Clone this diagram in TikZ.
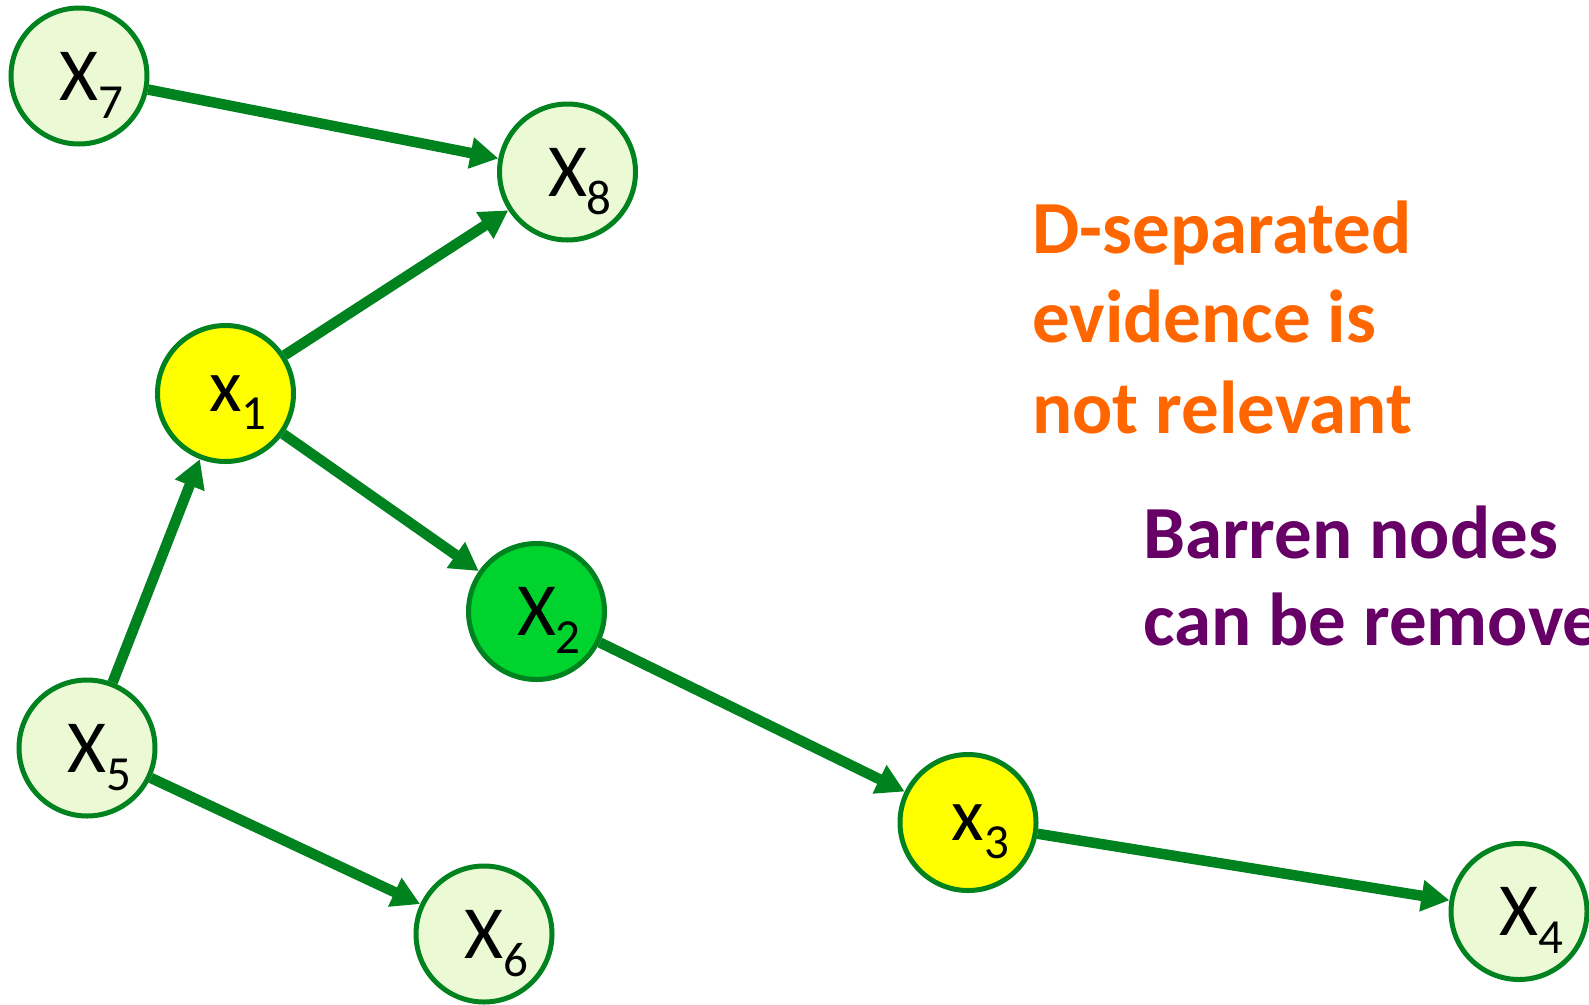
\documentclass[tikz,border=0pt]{standalone}
\usepackage{fontspec}
\setmainfont{Carlito}
\usetikzlibrary{arrows.meta}

\definecolor{netGreen}  {RGB}{0,130,30}
\definecolor{plainFill} {RGB}{235,250,213}
\definecolor{queryFill} {RGB}{255,255,0}
\definecolor{evidFill}  {RGB}{0,210,46}
\definecolor{noteOrange}{RGB}{255,102,0}
\definecolor{notePurple}{RGB}{102,0,102}

% letter with a hanging subscript, letter kept centred in the circle
\newcommand{\varlab}[2]{#1\rlap{\smash{\raisebox{-18pt}{\fontsize{49}{49}\selectfont#2}}}}

\begin{document}
\begin{tikzpicture}[x=1pt, y=-1pt,
    var/.style={circle, draw=netGreen, line width=5pt, fill=plainFill,
      minimum size=136pt, inner sep=0pt, font=\fontsize{75}{75}\selectfont},
    link/.style={draw=netGreen, line width=10.5pt,
      -{Triangle[length=28pt, width=30pt]}},
    note/.style={anchor=base west, inner sep=0pt,
      font=\fontsize{75}{75}\selectfont\bfseries}]
    \useasboundingbox (0,0) rectangle (1589,1004);
    \clip (0,0) rectangle (1589,1004);

    \node[var]                 (x7) at (79,76)      {\varlab{X}{7}};
    \node[var]                 (x8) at (567.5,172)  {\varlab{X}{8}};
    \node[var, fill=queryFill] (x1) at (225.5,393.5){\varlab{x}{1}};
    \node[var, fill=evidFill]  (x2) at (536.5,611.5){\varlab{X}{2}};
    \node[var]                 (x5) at (87,748)     {\varlab{X}{5}};
    \node[var]                 (x6) at (484,934)    {\varlab{X}{6}};
    \node[var, fill=queryFill] (x3) at (968,822.5)  {\varlab{x}{3}};
    \node[var]                 (x4) at (1519,911.5) {\varlab{X}{4}};

    \foreach \a/\b in {x7/x8, x1/x8, x1/x2, x5/x1, x5/x6, x2/x3, x3/x4}{%
      \draw[link] (\a) -- (\b);}

    \node[note, text=noteOrange] (sep1) at (1032,253) {D-separated};
    \node[note, text=noteOrange] (sep2) at (1032,342) {evidence is};
    \node[note, text=noteOrange] (sep3) at (1032,433) {not relevant};
    \node[note, text=notePurple] (bar1) at (1143,558) {Barren nodes};
    \node[note, text=notePurple] (bar2) at (1143,645) {can be removed};
  \end{tikzpicture}
\end{document}
